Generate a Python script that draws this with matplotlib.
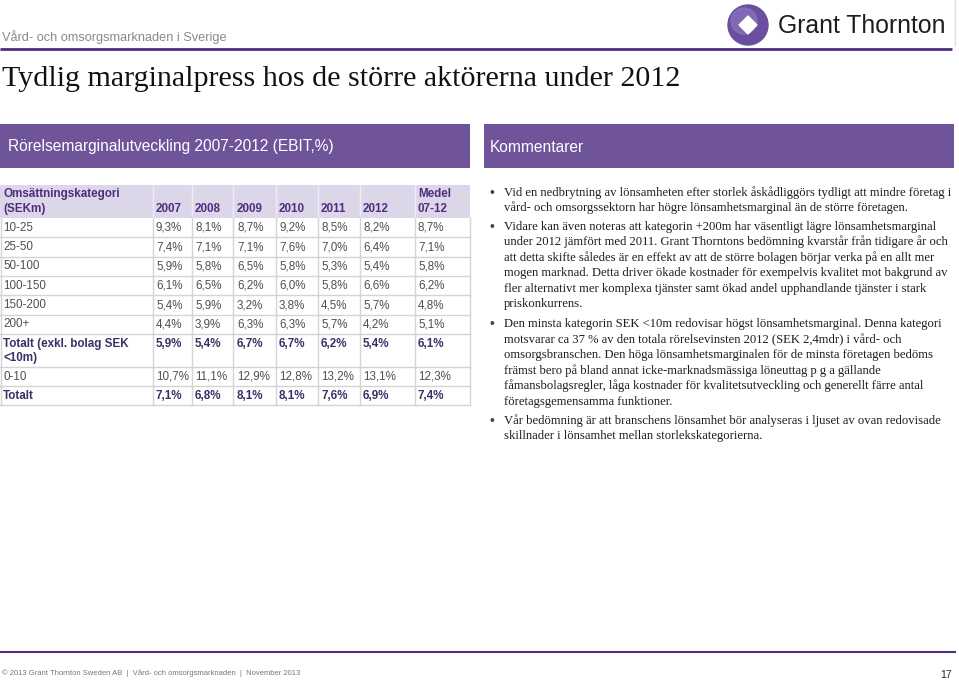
import matplotlib
matplotlib.use("Agg")
import matplotlib.pyplot as plt
from matplotlib.patches import Rectangle, Circle, Polygon

# ---------------- data ----------------
header_small = "Vård- och omsorgsmarknaden i Sverige"
title = "Tydlig marginalpress hos de större aktörerna under 2012"
left_bar = "Rörelsemarginalutveckling 2007-2012 (EBIT,%)"
right_bar = "Kommentarer"
col_head_first = "Omsättningskategori\n(SEKm)"
years = ["2007", "2008", "2009", "2010", "2011", "2012"]
avg_label = "Medel\n07-12"
categories = ["10-25", "25-50", "50-100", "100-150", "150-200", "200+",
              "Totalt (exkl. bolag SEK\n<10m)", "0-10", "Totalt"]
bold_rows = ["Totalt (exkl. bolag SEK\n<10m)", "Totalt"]
m_10_25 = [9.3, 8.1, 8.7, 9.2, 8.5, 8.2]
m_25_50 = [7.4, 7.1, 7.1, 7.6, 7.0, 6.4]
m_50_100 = [5.9, 5.8, 6.5, 5.8, 5.3, 5.4]
m_100_150 = [6.1, 6.5, 6.2, 6.0, 5.8, 6.6]
m_150_200 = [5.4, 5.9, 3.2, 3.8, 4.5, 5.7]
m_200p = [4.4, 3.9, 6.3, 6.3, 5.7, 4.2]
m_tot_exkl = [5.9, 5.4, 6.7, 6.7, 6.2, 5.4]
m_0_10 = [10.7, 11.1, 12.9, 12.8, 13.2, 13.1]
m_tot = [7.1, 6.8, 8.1, 8.1, 7.6, 6.9]
medel = [8.7, 7.1, 5.8, 6.2, 4.8, 5.1, 6.1, 12.3, 7.4]
series = [m_10_25, m_25_50, m_50_100, m_100_150, m_150_200, m_200p,
          m_tot_exkl, m_0_10, m_tot]

bullets = [
    ["Vid en nedbrytning av lönsamheten efter storlek åskådliggörs tydligt att mindre företag i",
     "vård- och omsorgssektorn har högre lönsamhetsmarginal än de större företagen."],
    ["Vidare kan även noteras att kategorin +200m har väsentligt lägre lönsamhetsmarginal",
     "under 2012 jämfört med 2011. Grant Thorntons bedömning kvarstår från tidigare år och",
     "att detta skifte således är en effekt av att de större bolagen börjar verka på en allt mer",
     "mogen marknad. Detta driver ökade kostnader för exempelvis kvalitet mot bakgrund av",
     "fler alternativt mer komplexa tjänster samt ökad andel upphandlande tjänster i stark",
     "priskonkurrens."],
    ["Den minsta kategorin SEK <10m redovisar högst lönsamhetsmarginal. Denna kategori",
     "motsvarar ca 37 % av den totala rörelsevinsten 2012 (SEK 2,4mdr) i vård- och",
     "omsorgsbranschen. Den höga lönsamhetsmarginalen för de minsta företagen bedöms",
     "främst bero på bland annat icke-marknadsmässiga löneuttag p g a gällande",
     "fåmansbolagsregler, låga kostnader för kvalitetsutveckling och generellt färre antal",
     "företagsgemensamma funktioner."],
    ["Vår bedömning är att branschens lönsamhet bör analyseras i ljuset av ovan redovisade",
     "skillnader i lönsamhet mellan storlekskategorierna."],
]
footer = "© 2013 Grant Thornton Sweden AB  |  Vård- och omsorgsmarknaden  |  November 2013"
page_no = "17"
logo_text = "Grant Thornton"

# ---------------- style ----------------
W, H = 959, 680
PURPLE = "#6f5499"
DARK_PURPLE = "#4f2d7f"
SANS = "Liberation Sans"
SERIF = "Liberation Serif"

fig = plt.figure(figsize=(W / 100, H / 100), dpi=100)
ax = fig.add_axes([0, 0, 1, 1])
ax.set_xlim(0, W)
ax.set_ylim(H, 0)
ax.axis("off")
renderer = fig.canvas.get_renderer()


def fit(t, width):
    bb = t.get_window_extent(renderer)
    t.set_fontsize(t.get_fontsize() * width / bb.width)
    return t


# header
fit(ax.text(2, 37, header_small, family=SANS, fontsize=10, color="#8a8a8a",
            va="center", ha="left"), 226)
ax.plot([0, 952], [49, 49], color=DARK_PURPLE, lw=2, solid_capstyle="butt")
ax.plot([955, 955], [0, 45], color="#dddddd", lw=1)

# logo
ax.add_patch(Circle((748, 25), 20, color="#6a4e9f", zorder=3))
ax.add_patch(Circle((744, 21), 13, color="#8c74bd", zorder=3, alpha=0.7))
ax.add_patch(Polygon([(748, 16), (757, 25), (748, 34), (739, 25)], closed=True,
                     color="white", zorder=4))
fit(ax.text(778, 26, logo_text, family=SANS, fontsize=20, color="#1e1e1e",
            va="center", ha="left"), 167)

# title
fit(ax.text(2, 86, title, family=SERIF, fontsize=22, color="#111111",
            va="baseline", ha="left"), 678)

# purple bars
ax.add_patch(Rectangle((0, 124), 470, 44, color=PURPLE, lw=0))
ax.add_patch(Rectangle((484, 124), 470, 44, color=PURPLE, lw=0))
fit(ax.text(8, 147, left_bar, family=SANS, fontsize=11, color="white",
            va="center", ha="left"), 325)
fit(ax.text(490, 147, right_bar, family=SANS, fontsize=11, color="white",
            va="center", ha="left"), 94)

# table
col_edges = [0, 153, 192, 233, 276, 318, 360, 415, 470]
text_x = [3, 156, 195, 237, 279, 321, 363, 418]
head_top, head_bot = 185, 218
row_h = [19.3, 19.3, 19.3, 19.3, 19.3, 19.3, 33, 19.3, 19.3]
grid = "#d4d4d4"
body_col = "#505050"
bold_col = "#3d2f66"
head_col = "#4f2d7f"
FS = 8.4

ax.add_patch(Rectangle((0, head_top), 470, head_bot - head_top,
                       color="#dcd7e8", lw=0))
for xe in col_edges[1:-1]:
    ax.plot([xe, xe], [head_top, head_bot], color="#efecf5", lw=1)
ax.text(text_x[0], 194, col_head_first.split("\n")[0], family=SANS, fontsize=FS,
        weight="bold", color=head_col, va="center")
ax.text(text_x[0], 209, col_head_first.split("\n")[1], family=SANS, fontsize=FS,
        weight="bold", color=head_col, va="center")
for j, y in enumerate(years):
    ax.text(text_x[j + 1], 209, y, family=SANS, fontsize=FS, weight="bold",
            color=head_col, va="center")
ax.text(text_x[7], 194, avg_label.split("\n")[0], family=SANS, fontsize=FS,
        weight="bold", color=head_col, va="center")
ax.text(text_x[7], 209, avg_label.split("\n")[1], family=SANS, fontsize=FS,
        weight="bold", color=head_col, va="center")


def fmt(v):
    return f"{v:.1f}%".replace(".", ",")


y0 = head_bot
for i, cat in enumerate(categories):
    h = row_h[i]
    bold = cat in bold_rows
    col = bold_col if bold else body_col
    wt = "bold" if bold else "normal"
    lines = cat.split("\n")
    yc = y0 + 9.8
    for k, ln in enumerate(lines):
        ax.text(text_x[0], yc + 14 * k, ln, family=SANS, fontsize=FS, weight=wt,
                color=col, va="center")
    for j, v in enumerate(series[i]):
        ax.text(text_x[j + 1], yc, fmt(v), family=SANS, fontsize=FS, weight=wt,
                color=col, va="center")
    ax.text(text_x[7], yc, fmt(medel[i]), family=SANS, fontsize=FS, weight=wt,
            color=col, va="center")
    y1 = y0 + h
    ax.plot([0, 470], [y1, y1], color=grid, lw=1)
    for xe in col_edges[1:]:
        ax.plot([xe, xe], [y0, y1], color=grid, lw=1)
    y0 = y1
ax.plot([0.5, 0.5], [head_bot, y0], color=grid, lw=1)

# comments
tmp = ax.text(504, 0, bullets[1][1], family=SERIF, fontsize=9)
bb = tmp.get_window_extent(renderer)
cfs = 9 * 446 / bb.width
tmp.remove()
line_y = [[193, 208], [227, 242, 258, 273, 289, 304],
          [324, 340, 355, 371, 386, 402], [421, 436]]
for b, ys in zip(bullets, line_y):
    ax.text(492, ys[0], "•", family=SANS, fontsize=cfs * 1.1, color="#444444",
            va="center", ha="center")
    for ln, yy in zip(b, ys):
        ax.text(504, yy, ln, family=SERIF, fontsize=cfs, color="#1e1e1e",
                va="center", ha="left")

# footer
ax.plot([0, 955], [652, 652], color=DARK_PURPLE, lw=1.5)
fit(ax.text(2, 673, footer, family=SANS, fontsize=6, color="#777777",
            va="center", ha="left"), 304)
ax.text(952, 675, page_no, family=SANS, fontsize=7.5, color="#222222",
        va="center", ha="right")

fig.savefig("out.png", dpi=100)
